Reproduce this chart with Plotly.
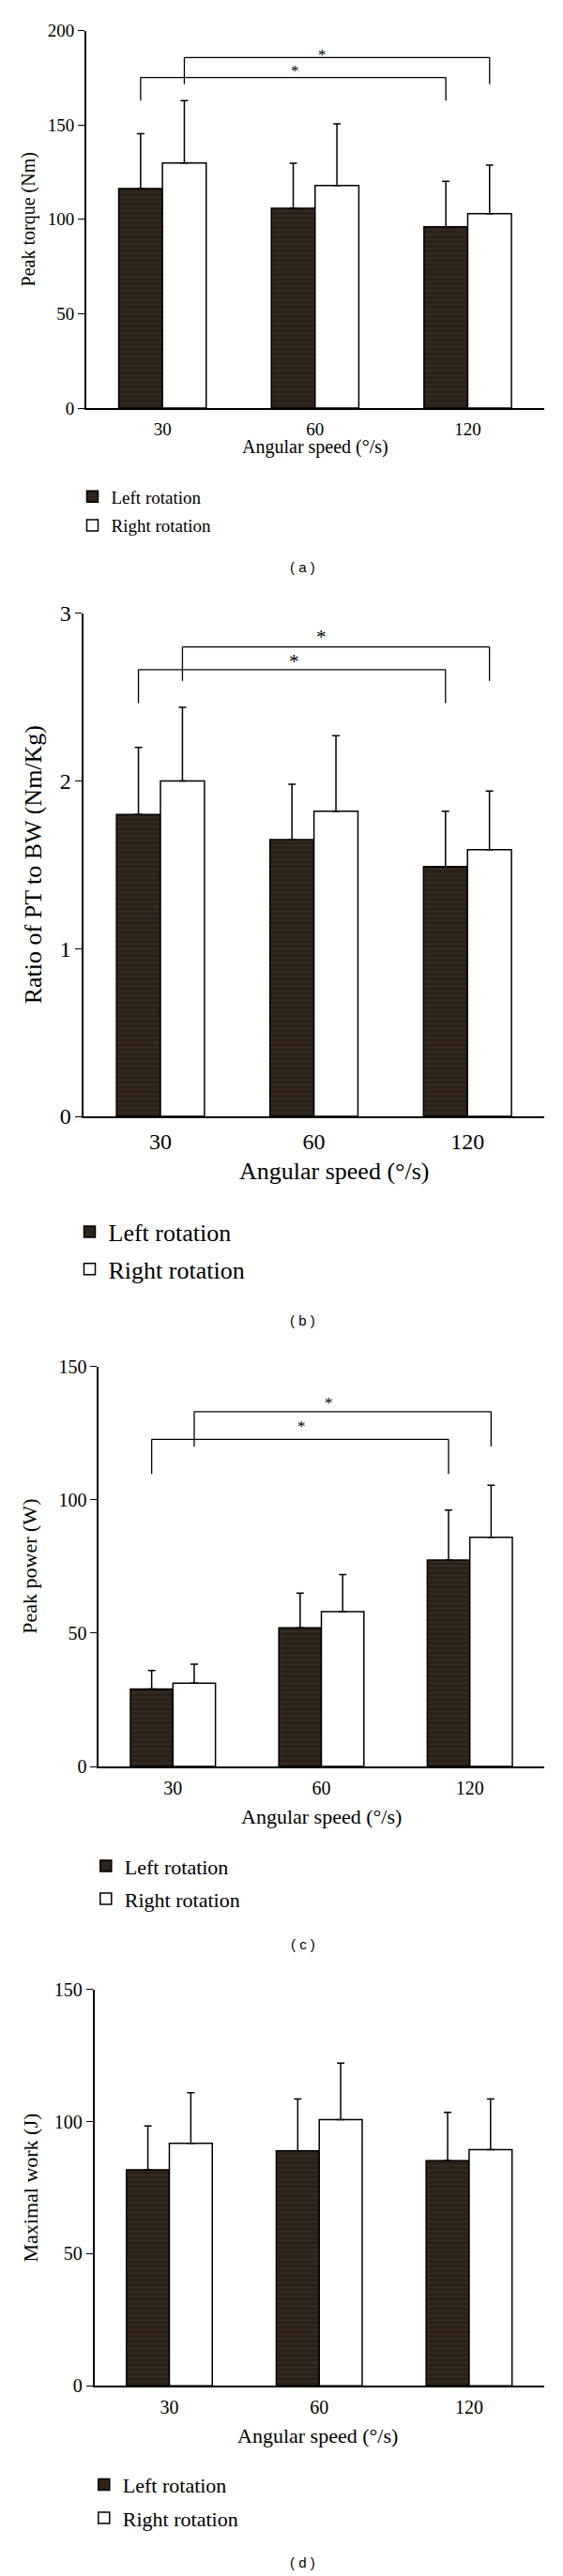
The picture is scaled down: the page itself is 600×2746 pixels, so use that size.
import plotly.graph_objects as go

W, H = 600, 2746

SPEEDS = ["30", "60", "120"]
SERIES = ["Left rotation", "Right rotation"]

# (a) peak torque, Nm
TORQUE_LEFT = [116.3, 105.9, 96.0]
TORQUE_LEFT_SD = [29.1, 23.8, 24.2]
TORQUE_RIGHT = [129.8, 117.9, 103.0]
TORQUE_RIGHT_SD = [33.1, 32.7, 25.7]
TORQUE_SIG = [(175.1, 162.9), (185.7, 171.5)]  # (bracket top, bracket foot)
TORQUE_STAR = [180.0, 188.6]

# (b) ratio of peak torque to body weight, Nm/Kg
RATIO_LEFT = [1.80, 1.65, 1.49]
RATIO_LEFT_SD = [0.40, 0.33, 0.33]
RATIO_RIGHT = [2.00, 1.82, 1.59]
RATIO_RIGHT_SD = [0.44, 0.45, 0.35]
RATIO_SIG = [(2.664, 2.465), (2.80, 2.598)]
RATIO_STAR = [2.733, 2.876]

# (c) peak power, W
POWER_LEFT = [29.0, 52.0, 77.4]
POWER_LEFT_SD = [7.0, 13.0, 18.8]
POWER_RIGHT = [31.2, 58.1, 86.0]
POWER_RIGHT_SD = [7.2, 13.9, 19.5]
POWER_SIG = [(122.7, 109.7), (133.1, 120.0)]
POWER_STAR = [128.8, 137.5]

# (d) maximal work, J
WORK_LEFT = [81.8, 89.0, 85.2]
WORK_LEFT_SD = [16.6, 19.6, 18.3]
WORK_RIGHT = [91.8, 100.8, 89.4]
WORK_RIGHT_SD = [19.2, 21.4, 19.2]

# star x, in category units
STAR_X = [0.87, 1.05]

DARK = "#2b2118"
STREAK = "#4e412d"
SERIF = "Liberation Serif"
BARGAP = 0.427

# layout of each panel in pixels of the 600x2746 page
PANELS = [
    dict(label="a", ytitle="Peak torque (Nm)", ymax=200, dtick=50,
         left=TORQUE_LEFT, left_sd=TORQUE_LEFT_SD, right=TORQUE_RIGHT, right_sd=TORQUE_RIGHT_SD,
         sig=TORQUE_SIG, star=TORQUE_STAR,
         x0=91.8, x1=579.8, top=32.5, bottom=435.1, tick=19, title=20, legfont=19, star_size=17,
         ytitle_x=30.6, xtitle_x=335.8, xtitle_y=476.4, leg_y=526.2, leg_x=98.5, leg_gap=3, cap_y=605),
    dict(label="b", ytitle="Ratio of PT to BW (Nm/Kg)", ymax=3, dtick=1,
         left=RATIO_LEFT, left_sd=RATIO_LEFT_SD, right=RATIO_RIGHT, right_sd=RATIO_RIGHT_SD,
         sig=RATIO_SIG, star=RATIO_STAR,
         x0=89.2, x1=580.0, top=653.8, bottom=1190.0, tick=24, title=26, legfont=26, star_size=21,
         ytitle_x=36.4, xtitle_x=356.0, xtitle_y=1249.0, leg_y=1310.0, leg_x=95.5, leg_gap=3, cap_y=1407),
    dict(label="c", ytitle="Peak power (W)", ymax=150, dtick=50,
         left=POWER_LEFT, left_sd=POWER_LEFT_SD, right=POWER_RIGHT, right_sd=POWER_RIGHT_SD,
         sig=POWER_SIG, star=POWER_STAR,
         x0=105.2, x1=579.8, top=1456.8, bottom=1883.0, tick=20, title=22, legfont=22, star_size=17,
         ytitle_x=31.8, xtitle_x=342.5, xtitle_y=1936.4, leg_y=1986.0, leg_x=112.8, leg_gap=3.5, cap_y=2072),
    dict(label="d", ytitle="Maximal work (J)", ymax=150, dtick=50,
         left=WORK_LEFT, left_sd=WORK_LEFT_SD, right=WORK_RIGHT, right_sd=WORK_RIGHT_SD,
         sig=[], star=[],
         x0=100.6, x1=579.8, top=2120.9, bottom=2543.2, tick=20, title=22, legfont=22, star_size=17,
         ytitle_x=32.5, xtitle_x=338.0, xtitle_y=2596.8, leg_y=2645.4, leg_x=110.8, leg_gap=4, cap_y=2731.5),
]


def px(x):
    return x / W


def py(y):
    return 1 - y / H


def error_bar(sd):
    # one-sided, upward only
    return dict(type="data", symmetric=False, array=sd, arrayminus=[0] * len(sd),
                color="black", thickness=1.5, width=4)


def add_panel(fig, i, p):
    n = "" if i == 0 else str(i + 1)
    xa, ya = "x" + n, "y" + n
    leg = "legend" + n

    fig.add_trace(go.Bar(
        x=SPEEDS, y=p["left"], name=SERIES[0], xaxis=xa, yaxis=ya,
        legend=leg, legendgroup=f"L{i}",
        marker=dict(color=DARK, line=dict(color="black", width=1.5),
                    pattern=dict(shape="-", bgcolor=DARK, fgcolor=STREAK, size=5, solidity=0.2)),
        error_y=error_bar(p["left_sd"]),
    ))
    fig.add_trace(go.Bar(
        x=SPEEDS, y=p["right"], name=SERIES[1], xaxis=xa, yaxis=ya,
        legend=leg, legendgroup=f"R{i}",
        marker=dict(color="white", line=dict(color="black", width=1.5)),
        error_y=error_bar(p["right_sd"]),
    ))

    fig.update_layout(**{
        "xaxis" + n: dict(
            domain=[px(p["x0"]), px(p["x1"])], anchor=ya, type="category",
            range=[-0.5, 2.5], showline=True, linecolor="black", linewidth=1.5,
            ticks="", showgrid=False, zeroline=False, ticklabelstandoff=4, automargin=False,
            tickfont=dict(family=SERIF, size=p["tick"], color="black"),
        ),
        "yaxis" + n: dict(
            domain=[py(p["bottom"]), py(p["top"])], anchor=xa,
            range=[0, p["ymax"]], dtick=p["dtick"], tick0=0,
            showline=True, linecolor="black", linewidth=1.5,
            ticks="outside", ticklen=7, tickwidth=1.3, tickcolor="black",
            showgrid=False, zeroline=False, automargin=False,
            tickfont=dict(family=SERIF, size=p["tick"], color="black"),
        ),
        leg: dict(
            x=px(p["leg_x"] - 20), xanchor="left",
            y=py(p["leg_y"] - (p["legfont"] * 1.3 + 3) / 2 - 2), yanchor="top",
            font=dict(family=SERIF, size=p["legfont"], color="black"),
            bgcolor="rgba(0,0,0,0)", tracegroupgap=p["leg_gap"], traceorder="grouped",
        ),
    })

    # significance brackets: left bars 30 -> 120, right bars 30 -> 120
    half = (1 - BARGAP) / 4
    line = dict(color="black", width=1.3)
    for k, (top, foot) in enumerate(p["sig"]):
        off = -half if k == 0 else half
        xs, xe = 0 + off, 2 + off
        for x0, y0, x1, y1 in [(xs, foot, xs, top), (xs, top, xe, top), (xe, top, xe, foot)]:
            fig.add_shape(type="line", xref=xa, yref=ya, x0=x0, y0=y0, x1=x1, y1=y1, line=line)
        fig.add_annotation(xref=xa, yref=ya, x=STAR_X[k], y=p["star"][k], text="*",
                           showarrow=False, yshift=-3,
                           font=dict(family=SERIF, size=p["star_size"], color="black"))

    # axis titles and caption
    fig.add_annotation(xref="paper", yref="paper", x=px(p["ytitle_x"]),
                       y=py((p["top"] + p["bottom"]) / 2), text=p["ytitle"], textangle=-90,
                       showarrow=False, xanchor="center", yanchor="middle",
                       font=dict(family=SERIF, size=p["title"], color="black"))
    fig.add_annotation(xref="paper", yref="paper", x=px(p["xtitle_x"]), y=py(p["xtitle_y"]),
                       text="Angular speed (°/s)", showarrow=False,
                       xanchor="center", yanchor="middle",
                       font=dict(family=SERIF, size=p["title"], color="black"))
    fig.add_annotation(xref="paper", yref="paper", x=px(322.6), y=py(p["cap_y"]),
                       text=f"( {p['label']} )", showarrow=False,
                       xanchor="center", yanchor="middle",
                       font=dict(family="Liberation Sans", size=15, color="black"))


fig = go.Figure()
for i, p in enumerate(PANELS):
    add_panel(fig, i, p)

fig.update_layout(
    width=W, height=H,
    margin=dict(l=0, r=0, t=0, b=0, pad=0, autoexpand=False),
    paper_bgcolor="white", plot_bgcolor="white",
    barmode="group", bargap=BARGAP, bargroupgap=0,
    showlegend=True,
)

# the page body has a default 8px margin; drop it so the figure sits at 0,0
fig.write_html("out.html", config={"displayModeBar": False},
               post_script="document.body.style.margin = '0';")
